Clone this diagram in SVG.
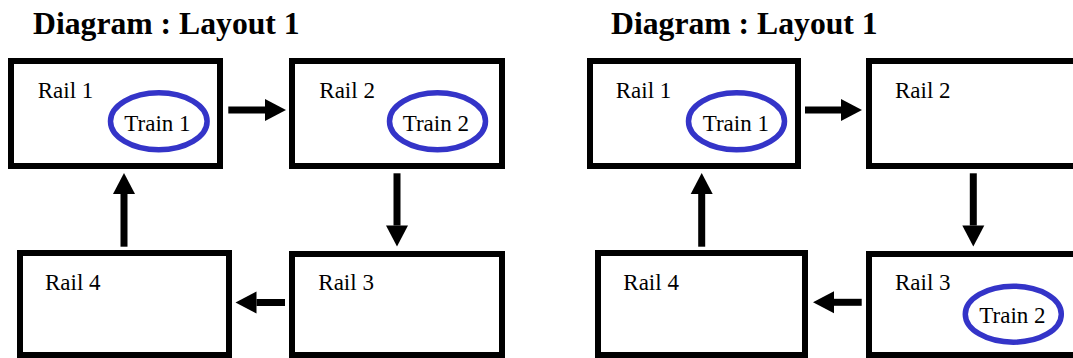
<svg xmlns="http://www.w3.org/2000/svg" width="1073" height="358" viewBox="0 0 1073 358">
<style>
.box{fill:#fff;stroke:#000;stroke-width:6}
.train{fill:none;stroke:#3434c8;stroke-width:5.5}
.lbl{font-family:"Liberation Serif","Times New Roman",serif;font-size:23px;fill:#000}
.title{font-family:"Liberation Serif","Times New Roman",serif;font-size:31.7px;font-weight:bold;fill:#000}
.conn{stroke:#000;stroke-width:7;fill:none;marker-end:url(#head)}
</style>
<defs>
<marker id="head" markerUnits="userSpaceOnUse" markerWidth="22" markerHeight="22" refX="0" refY="11" orient="auto" overflow="visible">
<path d="M0,0 L21,11 L0,22 Z" fill="#000"/>
</marker>
</defs>
<rect width="1073" height="358" fill="#fff"/>
<text class="title" x="33" y="34">Diagram : Layout 1</text>
<text class="title" x="611" y="34">Diagram : Layout 1</text>

<g id="L-rail1"><rect class="box" x="11" y="61" width="209" height="105"/><text class="lbl" x="37.7" y="98.3">Rail 1</text></g>
<g id="L-train1"><ellipse class="train" cx="158.8" cy="121.3" rx="48.3" ry="28.5"/><text class="lbl" x="124.3" y="130.7">Train 1</text></g>
<g id="L-rail2"><rect class="box" x="292" y="61" width="210" height="105"/><text class="lbl" x="319.3" y="98.3">Rail 2</text></g>
<g id="L-train2"><ellipse class="train" cx="437.5" cy="121.3" rx="48" ry="28.5"/><text class="lbl" x="402.7" y="131">Train 2</text></g>
<g id="L-rail3"><rect class="box" x="292" y="254" width="210" height="101"/><text class="lbl" x="318.3" y="290">Rail 3</text></g>
<g id="L-rail4"><rect class="box" x="20" y="253" width="209" height="102"/><text class="lbl" x="45" y="290">Rail 4</text></g>

<g id="R-rail1"><rect class="box" x="590" y="61" width="208" height="105"/><text class="lbl" x="615.7" y="98.3">Rail 1</text></g>
<g id="R-train1"><ellipse class="train" cx="736.5" cy="121.3" rx="48" ry="28.5"/><text class="lbl" x="702.7" y="130.7">Train 1</text></g>
<g id="R-rail2"><rect class="box" x="869" y="61" width="300" height="105"/><text class="lbl" x="895" y="98.3">Rail 2</text></g>
<g id="R-rail3"><rect class="box" x="869" y="254" width="300" height="101"/><text class="lbl" x="895" y="290">Rail 3</text></g>
<g id="R-train2"><ellipse class="train" cx="1013.3" cy="314.2" rx="48" ry="28"/><text class="lbl" x="979.3" y="322.7">Train 2</text></g>
<g id="R-rail4"><rect class="box" x="598" y="253" width="207" height="102"/><text class="lbl" x="623.3" y="290">Rail 4</text></g>

<g id="connectors">
<line class="conn" x1="228.3" y1="110" x2="265" y2="110"/>
<line class="conn" x1="397" y1="173.3" x2="397" y2="225.5"/>
<line class="conn" x1="285" y1="302.5" x2="256.5" y2="302.5"/>
<line class="conn" x1="124" y1="246.7" x2="124" y2="194"/>
<line class="conn" x1="805" y1="110" x2="841" y2="110"/>
<line class="conn" x1="973.3" y1="173.3" x2="973.3" y2="225.5"/>
<line class="conn" x1="861.7" y1="302.3" x2="834" y2="302.3"/>
<line class="conn" x1="701.7" y1="246.7" x2="701.7" y2="194"/>
</g>
</svg>
